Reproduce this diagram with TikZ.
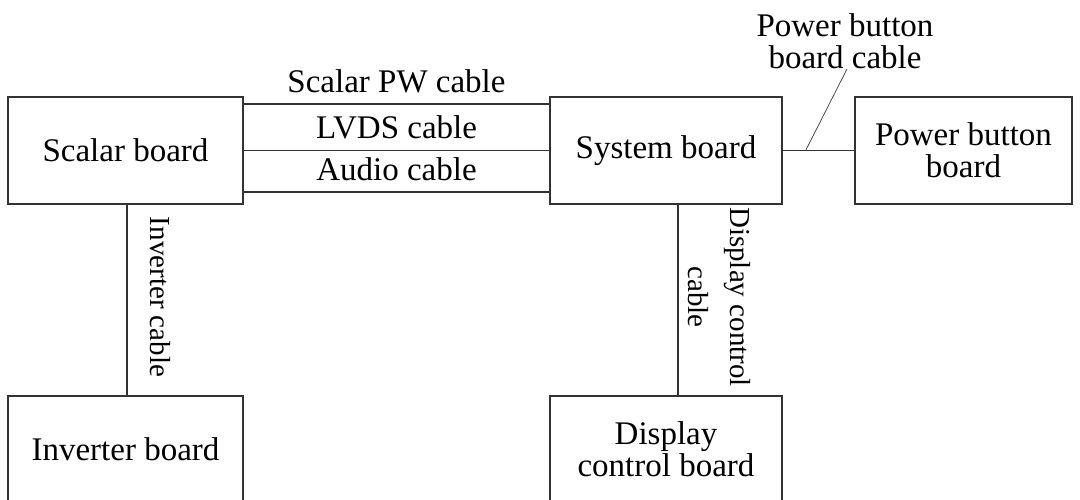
\documentclass[tikz,border=0pt]{standalone}
\usepackage{fontspec}
\setmainfont{Liberation Serif}
\usepackage{tikz}
\usetikzlibrary{positioning}

\begin{document}
\begin{tikzpicture}[
      x=0.5pt, y=-0.5pt,
      board/.style={draw=black!80, line width=0.75pt, minimum height=53.5pt, inner sep=0pt, align=center,
        font=\fontsize{16.5}{16}\selectfont},
      cable/.style={draw=black!80, line width=0.75pt},
      lbl/.style={font=\fontsize{16.5}{16}\selectfont, inner sep=0pt, align=center},
      vlbl/.style={font=\fontsize{14.5}{21}\selectfont, inner sep=0pt, align=center, rotate=-90}
    ]
    \clip (0,0) rectangle (1080,499);

    \node[board, minimum width=117.5pt] (scalar) at (125.5,150.5) {Scalar board};
    \node[board, minimum width=116pt] (system) at (666,150.5) {System board};
    \node[board, minimum width=108.5pt] (power) at (963.5,150.5) {Power button\\board};
    \node[board, minimum width=117.5pt] (inverter) at (125.5,449.5) {Inverter board};
    \node[board, minimum width=116pt] (display) at (666,449.5) {Display\\control board};

    \draw[cable] ([yshift=23.25pt]scalar.east) -- node[lbl, above=5pt] {Scalar PW cable} ([yshift=23.25pt]system.west);
    \draw[cable] (scalar.east) -- node[lbl, above=5.5pt] {LVDS cable} (system.west);
    \draw[cable] ([yshift=-20.75pt]scalar.east) -- node[lbl, above=5pt] {Audio cable} ([yshift=-20.75pt]system.west);

    \draw[cable] (system.east) -- coordinate[pos=0.32] (pbtap) (power.west);
    \node[lbl] (pblabel) at (845,41) {Power button\\board cable};
    \draw[black!70, line width=0.4pt] (pbtap) -- ([xshift=1pt]pblabel.south);

    \draw[cable] ([xshift=0.75pt]scalar.south) -- node[midway, xshift=16.5pt, yshift=1.5pt, vlbl] {Inverter cable} ([xshift=0.75pt]inverter.north);
    \draw[cable] ([xshift=6pt]system.south) -- node[midway, xshift=20.5pt, yshift=1.5pt, vlbl] {Display control\\cable} ([xshift=6pt]display.north);
  \end{tikzpicture}
\end{document}
